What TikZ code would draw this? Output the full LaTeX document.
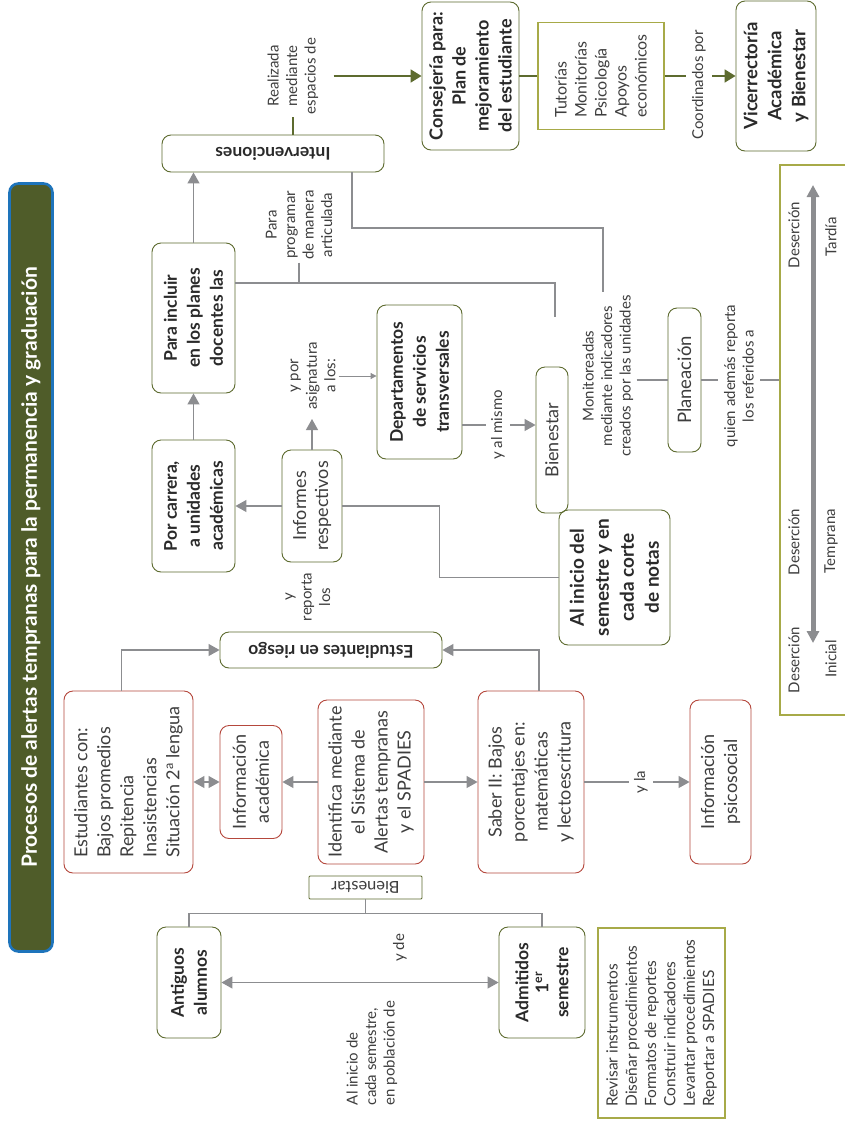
\documentclass[tikz,border=0pt]{standalone}
\usepackage{fontspec}
\setmainfont{Lato}
\usetikzlibrary{arrows.meta,calc}
\definecolor{olv}{HTML}{5D6B2F}
\definecolor{titlefill}{HTML}{4F5C29}
\definecolor{titleblue}{HTML}{1E74BB}
\definecolor{redb}{HTML}{B5473C}
\definecolor{lolv}{HTML}{A7AA48}
\definecolor{gry}{HTML}{8C8D90}
\definecolor{txt}{HTML}{2A2A2A}
\definecolor{ltxt}{HTML}{3E3E3E}
\newcommand{\fs}[2]{\fontsize{#1}{#2}\selectfont}
\tikzset{
  base/.style={inner sep=0pt, align=center, text=txt},
  ob/.style={base, draw=olv, rounded corners=9pt, line width=0.9pt, font=\bfseries\fs{17.5}{23}},
  rb/.style={base, draw=redb, rounded corners=9pt, line width=0.9pt, font=\fs{18}{23}, text=ltxt},
  lbox/.style={base, draw=lolv, line width=1.1pt, text=ltxt},
  lab/.style={base, inner sep=3pt, font=\fs{15}{18.5}, text=ltxt},
  rup/.style={rotate=90},
  rflip/.style={rotate=180},
  gline/.style={draw=gry, line width=1.2pt},
  garrow/.style={gline, -{Triangle[length=11pt,width=12pt]}},
  gdarrow/.style={gline, {Triangle[length=11pt,width=12pt]}-{Triangle[length=11pt,width=12pt]}},
  oline/.style={draw=olv, line width=1.8pt},
  oarrow/.style={oline, -{Triangle[length=11pt,width=13pt]}},
}
\begin{document}
\begin{tikzpicture}[x=1pt,y=-1pt]
\clip (0,0) rectangle (845,1122);
\fill[white] (0,0) rectangle (845,1122);
% title
\node[rup, fill=titlefill, draw=titleblue, line width=2.6pt, rounded corners=9pt,
  minimum width=768pt, minimum height=43pt, text=white, inner sep=0pt,
  font=\bfseries\fs{21}{24}] (title) at (31,567.5)
  {Procesos de alertas tempranas para la permanencia y graduación};
% boxes
\node[ob,rflip,minimum width=222pt,minimum height=37pt] (interv) at (273,153.5) {Intervenciones};
\node[ob,rup,minimum width=150pt,minimum height=83pt] (para) at (193.5,318) {Para incluir\\en los planes\\docentes las};
\node[ob,rup,minimum width=132pt,minimum height=83pt] (porc) at (193.5,506) {Por carrera,\\a unidades\\académicas};
\node[ob,rup,font=\fs{18}{22},text=ltxt,minimum width=112pt,minimum height=60pt] (inform) at (312,506) {Informes\\respectivos};
\node[ob,rup,minimum width=154pt,minimum height=85pt] (dept) at (419.5,382) {Departamentos\\de servicios\\transversales};
\node[ob,rup,font=\fs{18}{22},text=ltxt,minimum width=146pt,minimum height=32pt] (bien) at (552,440) {Bienestar};
\node[ob,rup,font=\bfseries\fs{19}{25},minimum width=135pt,minimum height=111pt] (alini) at (614.5,577.5) {Al inicio del\\semestre y en\\cada corte\\de notas};
\node[ob,rflip,minimum width=222pt,minimum height=36pt] (estr) at (331,650) {Estudiantes en riesgo};
\node[rb,rup,align=left,minimum width=182pt,minimum height=129pt] (econ) at (128.5,782) {Estudiantes con:\\Bajos promedios\\Repitencia\\Inasistencias\\Situación 2\textsuperscript{a} lengua};
\node[rb,rup,minimum width=113pt,minimum height=62pt] (infa) at (251,782) {Información\\académica};
\node[rb,rup,minimum width=164pt,minimum height=106pt] (ident) at (371,782) {Identifica mediante\\el Sistema de\\Alertas tempranas\\y el SPADIES};
\node[rb,rup,minimum width=182pt,minimum height=106pt] (saber) at (531,782) {Saber II: Bajos\\porcentajes en:\\matemáticas\\y lectoescritura};
\node[rb,rup,minimum width=164pt,minimum height=61pt] (infp) at (720.5,782) {Información\\psicosocial};
\node[ob,rflip,rounded corners=1pt,font=\fs{16.5}{18},text=ltxt,minimum width=113pt,minimum height=23pt] (bsmall) at (365.5,887.5) {Bienestar};
\node[ob,rup,minimum width=111pt,minimum height=64pt] (antig) at (189,982.5) {Antiguos\\alumnos};
\node[ob,rup,font=\bfseries\fs{17.5}{20},minimum width=111pt,minimum height=86pt] (admit) at (542,982.5) {Admitidos\\1\textsuperscript{er}\\semestre};
\node[lbox,rup,align=left,font=\fs{15.5}{19.3},minimum width=190pt,minimum height=127pt] (revis) at (661.5,1023) {Revisar instrumentos\\Diseñar procedimientos\\Formatos de reportes\\Construir indicadores\\Levantar procedimientos\\Reportar a SPADIES};
\node[ob,rup,font=\bfseries\fs{18}{23},minimum width=148pt,minimum height=97pt] (consej) at (470.5,76) {Consejería para:\\Plan de\\mejoramiento\\del estudiante};
\node[lbox,rup,align=left,font=\fs{16}{20},minimum width=107pt,minimum height=126pt] (tutor) at (601,76) {Tutorías\\Monitorías\\Psicología\\Apoyos\\económicos};
\node[ob,rup,font=\bfseries\fs{18.5}{24},minimum width=150pt,minimum height=80pt] (vice) at (776,76) {Vicerrectoría\\Académica\\y Bienestar};
\node[ob,rup,font=\fs{18.5}{22},text=ltxt,minimum width=144pt,minimum height=33pt] (plan) at (684.5,380) {Planeación};
\node[lbox,minimum width=90pt,minimum height=550pt] (deser) at (825,440) {};
% labels
\node[lab,rup] (lreal) at (293,76) {Realizada\\mediante\\espacios de};
\node[lab,rup,inner sep=6pt] (lcoord) at (699,85) {Coordinados por};
\node[lab,rup] (lpara) at (299,225) {Para\\programar\\de manera\\articulada};
\node[lab,rup] (lmon) at (608,376) {Monitoreadas\\mediante indicadores\\creados por las unidades};
\node[lab,rup,inner sep=6pt] (lquien) at (739,376) {quien además reporta\\los referidos a};
\node[lab,rup] (lypor) at (313,376) {y por\\asignatura\\a los:};
\node[lab,rup] (lyrep) at (308,597) {y\\reporta\\los};
\node[lab,rup,inner sep=5pt] (lyalm) at (498,425) {y al mismo};
\node[lab,rup,inner sep=5pt] (lyla) at (641,782) {y la};
\node[lab,rup] (lyde) at (400,948) {y de};
\node[lab,rup,align=left] (lalini) at (372,1053) {Al inicio de\\cada semestre,\\en población de};
\node[lab,rup] (d1) at (794,235) {Deserción};
\node[lab,rup] (t1) at (831,237) {Tardía};
\node[lab,rup] (d2) at (794,542) {Deserción};
\node[lab,rup] (t2) at (831,541) {Temprana};
\node[lab,rup] (d3) at (794,660) {Deserción};
\node[lab,rup] (t3) at (831,659) {Inicial};
% connectors
\draw[garrow] (para.east) -- (para.east |- interv.north);
\draw[garrow] (porc.east) -- (para.west);
\draw[garrow] (inform.north) -- (porc.south);
\draw[garrow, shorten >=6pt] (inform.east) -- (inform.east |- lypor.west);
\draw[gline, line width=1pt, -{Triangle[length=6pt,width=6pt]}] (lypor.south) -- (lypor.south -| dept.north);
\draw[gline] (dept.south |- lyalm) -- (lyalm);
\draw[garrow] (lyalm) -- (lyalm -| bien.north);
\draw[gline] (inform.south) -- ++(97,0) |- (alini.north);
\draw[garrow] ($(econ.east)+(-7,0)$) |- (estr.east);
\draw[garrow] ($(saber.east)+(8,0)$) |- (estr.west);
\draw[gdarrow] (econ.south) -- (infa.north);
\draw[garrow] (ident.north) -- (infa.south);
\draw[garrow] (ident.south) -- (saber.north);
\draw[gline] (saber.south) -- (lyla);
\draw[garrow] (lyla) -- (infp.north);
\coordinate (bk) at ($(bsmall.north)+(0,14)$);
\draw[gline] (bsmall.north) -- (bk);
\draw[gline] (antig.east) -- (antig.east |- bk) -- (admit.east |- bk) -- (admit.east);
\draw[gdarrow] (antig.south) -- (admit.north);
\draw[draw=olv, line width=1.2pt] (lreal.west |- interv.south) -- (lreal.west);
\draw[oarrow] ($(lreal.south)+(12,0)$) -- (consej.north);
\draw[oline] (consej.south) -- (tutor.north);
\draw[oline] (tutor.south) -- (lcoord.north |- tutor.south);
\draw[oarrow] (lcoord.south |- tutor.south) -- (vice.north);
\coordinate (m1) at (603,228);
\draw[gline] ($(interv.north)+(79,0)$) |- (m1) -- (m1 |- lmon.east);
\coordinate (p1) at (555,283);
\draw[gline] (para.south |- p1) -- (p1) -- ++(0,34);
\draw[gline] (lpara.west) -- (lpara.west |- p1);
\draw[gline] (lmon.south |- plan.north) -- (plan.north);
\draw[gline] (plan.south) -- (lquien.north |- plan.south);
\draw[gline] (lquien.south |- plan.south) -- (deser.west |- plan.south);
% time axis
\coordinate (ax1) at (813,185);
\coordinate (ax2) at (813,643);
\draw[draw=gry, line width=5pt, {Triangle[length=12pt,width=12pt]}-{Triangle[length=12pt,width=12pt]}] (ax1) -- (ax2);
\end{tikzpicture}
\end{document}
